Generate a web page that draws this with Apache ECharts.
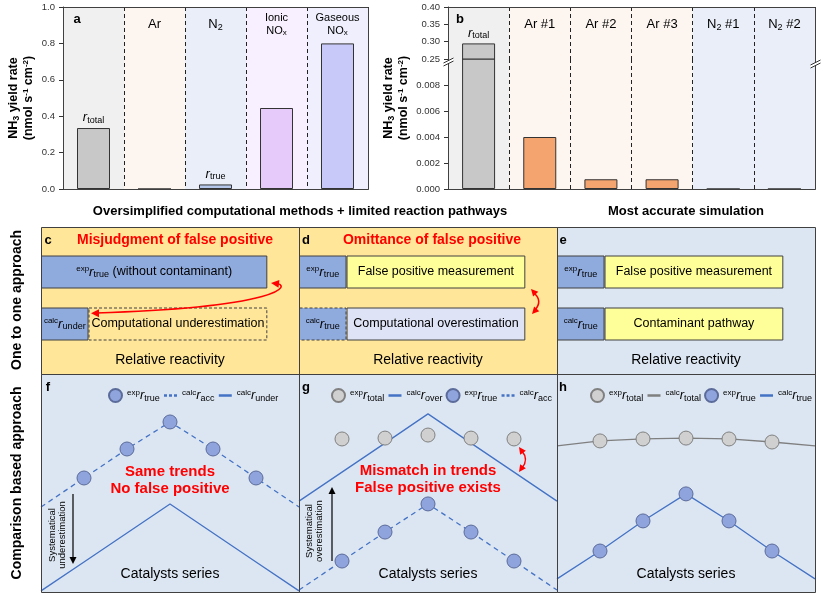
<!DOCTYPE html>
<html>
<head>
<meta charset="utf-8">
<script src="https://cdn.jsdelivr.net/npm/echarts@6.0.0/dist/echarts.min.js"></script>
<style>
html,body{margin:0;padding:0;background:#fff;}
#chart{width:826px;height:600px;}
</style>
</head>
<body>
<div id="chart"></div>
<script>
// ================= DATA =================
const aCategories = ['r_total', 'Ar', 'N2', 'Ionic NOx', 'Gaseous NOx'];
const aRates = [0.335, 0, 0.025, 0.445, 0.80];
const aAxis = { min: 0, max: 1.0, interval: 0.2 };

const bCategories = ['r_total', 'Ar #1', 'Ar #2', 'Ar #3', 'N2 #1', 'N2 #2'];
const bRates = [0.295, 0.0040, 0.00075, 0.00075, 0, 0];
const bUpperAxis = { min: 0.25, max: 0.40, interval: 0.05 };
const bLowerAxis = { min: 0, max: 0.010, interval: 0.002 };

const reactRows = ['calc', 'exp'];
const reactMax = 11.4;
const cTrue = [2.1, 10.0];
const cRest = [7.9, null];
const dTrue = [2.1, 2.1];
const dRest = [7.9, 7.9];
const eTrue = [2.1, 2.1];
const eRest = [7.9, 7.9];

const catalysts = ['start', 'Cat. 1', 'Cat. 2', 'Cat. 3', 'Cat. 4', 'Cat. 5', 'end'];
const rateAxis = { min: 0, max: 10 };
const fExpTrue   = [null, 5.23, 6.56, 7.80, 6.56, 5.23, null];
const fCalcAcc   = [3.90, 5.23, 6.56, 7.80, 6.56, 5.23, 3.90];
const fCalcUnder = [0.05, 1.38, 2.71, 4.04, 2.71, 1.38, 0.05];
const gExpTotal  = [null, 7.02, 7.06, 7.20, 7.06, 7.02, null];
const gCalcOver  = [4.17, 5.50, 6.83, 8.17, 6.83, 5.50, 4.17];
const gExpTrue   = [null, 1.42, 2.75, 4.04, 2.75, 1.42, null];
const gCalcAcc   = [0.09, 1.42, 2.75, 4.04, 2.75, 1.42, 0.09];
const hExpTotal  = [null, 6.93, 7.02, 7.06, 7.02, 6.88, null];
const hCalcTotal = [6.70, 6.93, 7.02, 7.06, 7.02, 6.88, 6.70];
const hExpTrue   = [null, 1.88, 3.26, 4.50, 3.26, 1.88, null];
const hCalcTrue  = [0.60, 1.88, 3.26, 4.50, 3.26, 1.88, 0.60];

// ================= STYLES =================
const FF = '"Liberation Sans", Arial, Helvetica, sans-serif';
const BORDER = '#404040';
const aColumnColors = ['#f0f0f0', '#fdf5ef', '#e9eef8', '#f8f0fe', '#efeffe'];
const aBarColors = ['#c8c8c8', '#f4a56f', '#b5c8ec', '#e6cbfa', '#c9c9f9'];
const bColumnColors = ['#f0f0f0', '#fdf5ef', '#fdf5ef', '#fdf5ef', '#e9eef8', '#e9eef8'];
const bBarColors = ['#c8c8c8', '#f4a56f', '#f4a56f', '#f4a56f', '#b5c8ec', '#b5c8ec'];
const BLUE_BAR = '#8faadc';
const YELLOW = '#ffff99';
const GOLD_BG = '#ffe699';
const LIGHT_BG = '#dce6f2';
const LAVENDER = '#dee3f5';
const LINE_BLUE = '#4472c4';
const DOT_BLUE = '#8fa3dc';
const DOT_GRAY = '#d0d0d0';
const RED = '#ff0000';

function rich(base, color, weight) {
  color = color || '#000';
  weight = weight || 'normal';
  return {
    n:   { fontFamily: FF, fontSize: base, color, fontWeight: weight },
    i:   { fontFamily: FF, fontSize: base + 1, fontStyle: 'italic', color, fontWeight: weight },
    sub: { fontFamily: FF, fontSize: Math.round(base * 0.72), color, fontWeight: weight, padding: [Math.round(base * 0.5), 0, 0, 0] },
    sup: { fontFamily: FF, fontSize: Math.round(base * 0.64), color, fontWeight: weight, padding: [0, 0, Math.round(base * 0.5), 0] },
    sm:  { fontFamily: FF, fontSize: 11, color, lineHeight: 13 },
    smsub: { fontFamily: FF, fontSize: 8, color, lineHeight: 13, padding: [5, 0, 0, 0] }
  };
}
const R = (sup, sub) => (sup ? '{sup|' + sup + '}' : '') + '{i|r}{sub|' + sub + '}';

const headerLabels = {
  'r_total': '',
  'Ar': '{n|Ar}',
  'N2': '{n|N}{sub|2}',
  'Ionic NOx': '{sm|Ionic}\n{sm|NO}{smsub|x}',
  'Gaseous NOx': '{sm|Gaseous}\n{sm|NO}{smsub|x}',
  'Ar #1': '{n|Ar #1}', 'Ar #2': '{n|Ar #2}', 'Ar #3': '{n|Ar #3}',
  'N2 #1': '{n|N}{sub|2}{n| #1}', 'N2 #2': '{n|N}{sub|2}{n| #2}'
};
const barTopLabels = { 'r_total': R('', 'total'), 'N2': R('', 'true') };

const legendText = {
  fExpTrue: R('exp', 'true'), fCalcAcc: R('calc', 'acc'), fCalcUnder: R('calc', 'under'),
  gExpTotal: R('exp', 'total'), gCalcOver: R('calc', 'over'), gExpTrue: R('exp', 'true'), gCalcAcc: R('calc', 'acc'),
  hExpTotal: R('exp', 'total'), hCalcTotal: R('calc', 'total'), hExpTrue: R('exp', 'true'), hCalcTrue: R('calc', 'true')
};
const scatterNames = new Set(['fExpTrue', 'gExpTotal', 'gExpTrue', 'hExpTotal', 'hExpTrue']);

const tickLabel = { fontFamily: FF, fontSize: 9.5, color: '#333', margin: 8 };
const axisLineStyle = { lineStyle: { color: '#333', width: 1 } };

// ================= AXES =================
function columnAxis(gridIndex, data, colors, showLine) {
  return {
    type: 'category', gridIndex, data, position: 'bottom',
    axisLine: { show: showLine, lineStyle: { color: '#333' } },
    axisTick: { show: false }, axisLabel: { show: false },
    splitLine: { show: true, interval: 0, lineStyle: { color: '#222', type: [4, 3], width: 1 } },
    splitArea: { show: true, interval: 0, areaStyle: { color: colors } }
  };
}
function headerAxis(gridIndex, data) {
  return {
    type: 'category', gridIndex, data, position: 'top',
    axisLine: { show: false }, axisTick: { show: false }, splitLine: { show: false },
    axisLabel: { show: true, inside: true, interval: 0, margin: 17, verticalAlign: 'middle',
      formatter: v => headerLabels[v], rich: rich(13) }
  };
}
function reactXAxis(gridIndex) {
  return {
    type: 'value', gridIndex, min: 0, max: reactMax,
    axisLine: { show: false }, axisTick: { show: false }, axisLabel: { show: false }, splitLine: { show: false },
    name: 'Relative reactivity', nameLocation: 'middle', nameGap: 3,
    nameTextStyle: { fontFamily: FF, fontSize: 14, color: '#000' }
  };
}
function catalystXAxis(gridIndex) {
  return {
    type: 'category', gridIndex, data: catalysts, boundaryGap: false,
    axisLine: { show: false }, axisTick: { show: false }, axisLabel: { show: false }, splitLine: { show: false },
    name: 'Catalysts series', nameLocation: 'middle', nameGap: -25,
    nameTextStyle: { fontFamily: FF, fontSize: 14, color: '#000' }
  };
}

const xAxis = [
  columnAxis(0, aCategories, aColumnColors, true),   // 0
  headerAxis(0, aCategories),                        // 1
  columnAxis(1, bCategories, bColumnColors, false),  // 2
  headerAxis(1, bCategories),                        // 3
  columnAxis(2, bCategories, bColumnColors, true),   // 4
  reactXAxis(3), reactXAxis(4), reactXAxis(5),       // 5,6,7
  catalystXAxis(6), catalystXAxis(7), catalystXAxis(8) // 8,9,10
];

const yName = '{t|NH}{ts|3}{t| yield rate}\n{t|(nmol s}{tp|-1}{t| cm}{tp|-2}{t|)}';
const yNameRich = {
  t: { fontFamily: FF, fontSize: 12.5, fontWeight: 'bold', color: '#000', lineHeight: 15 },
  ts: { fontFamily: FF, fontSize: 9, fontWeight: 'bold', color: '#000', padding: [6, 0, 0, 0] },
  tp: { fontFamily: FF, fontSize: 8, fontWeight: 'bold', color: '#000', padding: [0, 0, 6, 0] }
};

const yAxis = [
  { type: 'value', gridIndex: 0, min: aAxis.min, max: aAxis.max, interval: aAxis.interval,
    axisLine: Object.assign({ show: true }, axisLineStyle),
    axisTick: { show: true, length: 4, lineStyle: { color: '#333' } },
    axisLabel: Object.assign({ formatter: v => v.toFixed(1) }, tickLabel),
    splitLine: { show: false },
    name: yName, nameLocation: 'middle', nameGap: 27, nameTextStyle: { rich: yNameRich } },
  { type: 'value', gridIndex: 1, min: bUpperAxis.min, max: bUpperAxis.max, interval: bUpperAxis.interval,
    axisLine: Object.assign({ show: true }, axisLineStyle),
    axisTick: { show: true, length: 4, lineStyle: { color: '#333' } },
    axisLabel: Object.assign({ formatter: v => v.toFixed(2) }, tickLabel),
    splitLine: { show: false } },
  { type: 'value', gridIndex: 2, min: bLowerAxis.min, max: bLowerAxis.max, interval: bLowerAxis.interval,
    axisLine: Object.assign({ show: true }, axisLineStyle),
    axisTick: { show: true, length: 4, lineStyle: { color: '#333' } },
    axisLabel: Object.assign({ formatter: v => (v > bLowerAxis.max - bLowerAxis.interval / 2 ? '' : v.toFixed(3)) }, tickLabel),
    splitLine: { show: false } },
  { type: 'category', gridIndex: 3, data: reactRows, show: false },
  { type: 'category', gridIndex: 4, data: reactRows, show: false },
  { type: 'category', gridIndex: 5, data: reactRows, show: false },
  { type: 'value', gridIndex: 6, min: rateAxis.min, max: rateAxis.max, show: false },
  { type: 'value', gridIndex: 7, min: rateAxis.min, max: rateAxis.max, show: false },
  { type: 'value', gridIndex: 8, min: rateAxis.min, max: rateAxis.max, show: false }
];

// ================= SERIES =================
const series = [];
const barBorder = { borderColor: '#333', borderWidth: 1 };

series.push({
  type: 'bar', name: 'aRates', xAxisIndex: 0, yAxisIndex: 0, barWidth: 33, itemStyle: barBorder,
  data: aRates.map((v, i) => ({
    value: v, itemStyle: { color: aBarColors[i] },
    label: barTopLabels[aCategories[i]] ? { show: true, position: 'top', distance: 3, formatter: barTopLabels[aCategories[i]], rich: rich(12) } : { show: false }
  }))
});
series.push({
  type: 'bar', name: 'bUpper', xAxisIndex: 2, yAxisIndex: 1, barWidth: 33, itemStyle: barBorder, clip: true, z: 3,
  data: bRates.map((v, i) => v >= bUpperAxis.min ? ({
    value: v, itemStyle: { color: bBarColors[i] },
    label: barTopLabels[bCategories[i]] ? { show: true, position: 'top', distance: 3, formatter: barTopLabels[bCategories[i]], rich: rich(12) } : { show: false }
  }) : '-')
});
series.push({
  type: 'bar', name: 'bLower', xAxisIndex: 4, yAxisIndex: 2, barWidth: 33, itemStyle: barBorder, clip: true,
  data: bRates.map((v, i) => ({ value: v, itemStyle: { color: bBarColors[i] } }))
});

function reactBars(idx, values, colors, labels, dashed) {
  return {
    type: 'bar', name: 'react' + idx + '_' + labels.join(''), xAxisIndex: 5 + idx, yAxisIndex: 3 + idx,
    stack: 'react' + idx, barWidth: 33,
    data: values.map((v, i) => v == null ? '-' : ({
      value: v,
      itemStyle: { color: colors[i], borderColor: BORDER, borderWidth: 1, borderType: dashed[i] ? [3, 2] : 'solid' },
      label: { show: true, position: 'inside', formatter: labels[i], rich: rich(12.5), color: '#000' }
    }))
  };
}
series.push(reactBars(0, cTrue, [BLUE_BAR, BLUE_BAR], [R('calc', 'under'), R('exp', 'true') + '{n| (without contaminant)}'], [false, false]));
series.push(reactBars(0, cRest, [GOLD_BG, GOLD_BG], ['{n|Computational underestimation}', ''], [true, false]));
series.push(reactBars(1, dTrue, [BLUE_BAR, BLUE_BAR], [R('calc', 'true'), R('exp', 'true')], [true, false]));
series.push(reactBars(1, dRest, [LAVENDER, YELLOW], ['{n|Computational overestimation}', '{n|False positive measurement}'], [false, false]));
series.push(reactBars(2, eTrue, [BLUE_BAR, BLUE_BAR], [R('calc', 'true'), R('exp', 'true')], [false, false]));
series.push(reactBars(2, eRest, [YELLOW, YELLOW], ['{n|Contaminant pathway}', '{n|False positive measurement}'], [false, false]));

function lineS(name, grid, data, color, dashed) {
  return { type: 'line', name, xAxisIndex: 8 + grid, yAxisIndex: 6 + grid, data, symbol: 'none', z: 3,
    lineStyle: { color, width: 1.3, type: dashed ? [5, 4] : 'solid' }, itemStyle: { color } };
}
function dotS(name, grid, data, fill, stroke) {
  return { type: 'scatter', name, xAxisIndex: 8 + grid, yAxisIndex: 6 + grid, symbolSize: 14, z: 4,
    data: data.map(v => v == null ? '-' : v),
    itemStyle: { color: fill, borderColor: stroke, borderWidth: 1, opacity: 1 } };
}
series.push(dotS('fExpTrue', 0, fExpTrue, DOT_BLUE, '#5b6b9a'));
series.push(lineS('fCalcAcc', 0, fCalcAcc, LINE_BLUE, true));
series.push(lineS('fCalcUnder', 0, fCalcUnder, LINE_BLUE, false));
series.push(dotS('gExpTotal', 1, gExpTotal, DOT_GRAY, '#808080'));
series.push(lineS('gCalcOver', 1, gCalcOver, LINE_BLUE, false));
series.push(dotS('gExpTrue', 1, gExpTrue, DOT_BLUE, '#5b6b9a'));
series.push(lineS('gCalcAcc', 1, gCalcAcc, LINE_BLUE, true));
series.push(dotS('hExpTotal', 2, hExpTotal, DOT_GRAY, '#808080'));
series.push(lineS('hCalcTotal', 2, hCalcTotal, '#7f7f7f', false));
series.push(dotS('hExpTrue', 2, hExpTrue, DOT_BLUE, '#5b6b9a'));
series.push(lineS('hCalcTrue', 2, hCalcTrue, LINE_BLUE, false));

const dashedLegend = new Set(['fCalcAcc', 'gCalcAcc']);
function mkLegend(names, left) {
  return {
    left, top: 388, orient: 'horizontal', itemGap: 3, itemWidth: 13, itemHeight: 13, padding: 0,
    selectedMode: false,
    data: names.map(n => scatterNames.has(n) ? { name: n, icon: 'circle' } :
      { name: n, itemStyle: { opacity: 0 }, lineStyle: { width: 2.5, type: dashedLegend.has(n) ? [3, 2] : 'solid' } }),
    formatter: n => legendText[n],
    textStyle: { fontFamily: FF, fontSize: 12, color: '#000', rich: rich(12) }
  };
}
const legend = [
  mkLegend(['fExpTrue', 'fCalcAcc', 'fCalcUnder'], 108),
  mkLegend(['gExpTotal', 'gCalcOver', 'gExpTrue', 'gCalcAcc'], 331),
  mkLegend(['hExpTotal', 'hCalcTotal', 'hExpTrue', 'hCalcTrue'], 590)
];

// ================= DECORATIONS =================
const G = [];
function txt(x, y, text, o) {
  return Object.assign({ type: 'text', x, y, z: 60,
    style: Object.assign({ text, fontFamily: FF, fontSize: 13, fill: '#000', align: 'center', verticalAlign: 'middle' }, (o && o.style) || {}) },
    o && o.rotation ? { rotation: o.rotation } : {});
}
function rect(x, y, w, h, fill, stroke, z) {
  return { type: 'rect', z, shape: { x, y, width: w, height: h }, style: { fill: fill || 'none', stroke: stroke || 'none', lineWidth: 1 }, silent: true };
}
function head(tx, ty, ang, size, color) {
  const bx = tx - size * Math.cos(ang), by = ty - size * Math.sin(ang);
  const px = -Math.sin(ang) * size * 0.5, py = Math.cos(ang) * size * 0.5;
  return { type: 'polygon', z: 70, shape: { points: [[tx, ty], [bx + px, by + py], [bx - px, by - py]] }, style: { fill: color } };
}
// panel backgrounds (c, d, e)
G.push(rect(41, 227, 258, 147, GOLD_BG, null, -1));
G.push(rect(299, 227, 258, 147, GOLD_BG, null, -1));
G.push(rect(557, 227, 258, 147, LIGHT_BG, null, -1));
// panel outlines
[[63, 7, 305, 182], [448, 7, 367, 182], [41, 227, 258, 147], [299, 227, 258, 147], [557, 227, 258, 147],
 [41, 374, 258, 218], [299, 374, 258, 218], [557, 374, 258, 218]].forEach(r => G.push(rect(r[0] + 0.5, r[1] + 0.5, r[2], r[3], null, BORDER, 50)));
// axis break marks
[[448.5, 62], [815.5, 64]].forEach(p => {
  G.push({ type: 'polygon', z: 80, shape: { points: [[p[0] - 5, p[1] + 1], [p[0] + 5, p[1] - 4], [p[0] + 5, p[1] - 1], [p[0] - 5, p[1] + 4]] }, style: { fill: '#fff' } });
  G.push({ type: 'line', z: 81, shape: { x1: p[0] - 5, y1: p[1] + 1, x2: p[0] + 5, y2: p[1] - 4 }, style: { stroke: '#333', lineWidth: 1 } });
  G.push({ type: 'line', z: 81, shape: { x1: p[0] - 5, y1: p[1] + 4, x2: p[0] + 5, y2: p[1] - 1 }, style: { stroke: '#333', lineWidth: 1 } });
});
// panel b y-axis title
G.push(txt(396, 98, yName, { rotation: Math.PI / 2, style: { rich: yNameRich } }));
// panel letters
[['a', 77, 19], ['b', 460, 19], ['c', 48, 240], ['d', 306, 240], ['e', 563, 240], ['f', 48, 387], ['g', 306, 387], ['h', 563, 387]]
  .forEach(l => G.push(txt(l[1], l[2], l[0], { style: { fontWeight: 'bold', fontSize: 13 } })));
// headings
G.push(txt(300, 211, 'Oversimplified computational methods + limited reaction pathways', { style: { fontWeight: 'bold', fontSize: 13 } }));
G.push(txt(686, 211, 'Most accurate simulation', { style: { fontWeight: 'bold', fontSize: 13 } }));
G.push(txt(17, 300, 'One to one approach', { rotation: Math.PI / 2, style: { fontWeight: 'bold', fontSize: 14 } }));
G.push(txt(17, 483, 'Comparison based approach', { rotation: Math.PI / 2, style: { fontWeight: 'bold', fontSize: 14 } }));
// red titles
G.push(txt(175, 240, 'Misjudgment of false positive', { style: { fontWeight: 'bold', fontSize: 14, fill: RED } }));
G.push(txt(432, 240, 'Omittance of false positive', { style: { fontWeight: 'bold', fontSize: 14, fill: RED } }));
G.push(txt(170, 480, 'Same trends\nNo false positive', { style: { fontWeight: 'bold', fontSize: 15, fill: RED, lineHeight: 17 } }));
G.push(txt(428, 479, 'Mismatch in trends\nFalse positive exists', { style: { fontWeight: 'bold', fontSize: 15, fill: RED, lineHeight: 17 } }));
G.push(txt(57, 535, 'Systematical\nunderestimation', { rotation: Math.PI / 2, style: { fontSize: 9.5, lineHeight: 10 } }));
G.push(txt(314, 531, 'Systematical\noverestimation', { rotation: Math.PI / 2, style: { fontSize: 9.5, lineHeight: 10 } }));
// red curved arrow (c)
G.push({ type: 'bezierCurve', z: 70, shape: { x1: 275, y1: 283, cpx1: 293, cpy1: 285, cpx2: 282, cpy2: 307, x2: 96, y2: 313 }, style: { stroke: RED, lineWidth: 1.5, fill: 'none' } });
G.push(head(271, 283, Math.atan2(-2, -18), 8, RED));
G.push(head(91, 313.2, Math.atan2(0, -1), 8, RED));
// red double arrow (d)
G.push({ type: 'bezierCurve', z: 70, shape: { x1: 534, y1: 293, cpx1: 543, cpy1: 301, x2: 535, y2: 310 }, style: { stroke: RED, lineWidth: 1.5, fill: 'none' } });
G.push(head(531, 289, Math.atan2(-1, -0.9), 7, RED));
G.push(head(532, 314, Math.atan2(1, -0.9), 7, RED));
// red double arrow (g)
G.push({ type: 'bezierCurve', z: 70, shape: { x1: 522, y1: 451, cpx1: 529, cpy1: 459.5, x2: 522, y2: 468 }, style: { stroke: RED, lineWidth: 1.5, fill: 'none' } });
G.push(head(519, 447, Math.atan2(-1, -0.7), 7, RED));
G.push(head(519, 472, Math.atan2(1, -0.7), 7, RED));
// black arrows
G.push({ type: 'line', z: 70, shape: { x1: 73, y1: 494, x2: 73, y2: 558 }, style: { stroke: '#000', lineWidth: 1.2 } });
G.push(head(73, 564, Math.PI / 2, 7, '#000'));
G.push({ type: 'line', z: 70, shape: { x1: 332, y1: 561, x2: 332, y2: 493 }, style: { stroke: '#000', lineWidth: 1.2 } });
G.push(head(332, 487, -Math.PI / 2, 7, '#000'));

const chart = echarts.init(document.getElementById('chart'), null, { renderer: 'canvas' });
chart.setOption({
  animation: false,
  backgroundColor: '#fff',
  textStyle: { fontFamily: FF },
  grid: [
    { left: 63, top: 7, width: 305, height: 182 },
    { left: 448, top: 7, width: 367, height: 52 },
    { left: 448, top: 59, width: 367, height: 130 },
    { left: 41, top: 246, width: 258, height: 104 },
    { left: 299, top: 246, width: 258, height: 104 },
    { left: 557, top: 246, width: 258, height: 104 },
    { left: 41, top: 374, width: 258, height: 218, show: true, backgroundColor: LIGHT_BG, borderWidth: 0 },
    { left: 299, top: 374, width: 258, height: 218, show: true, backgroundColor: LIGHT_BG, borderWidth: 0 },
    { left: 557, top: 374, width: 258, height: 218, show: true, backgroundColor: LIGHT_BG, borderWidth: 0 }
  ],
  xAxis, yAxis, series, legend,
  graphic: { elements: G }
});
</script>
</body>
</html>
